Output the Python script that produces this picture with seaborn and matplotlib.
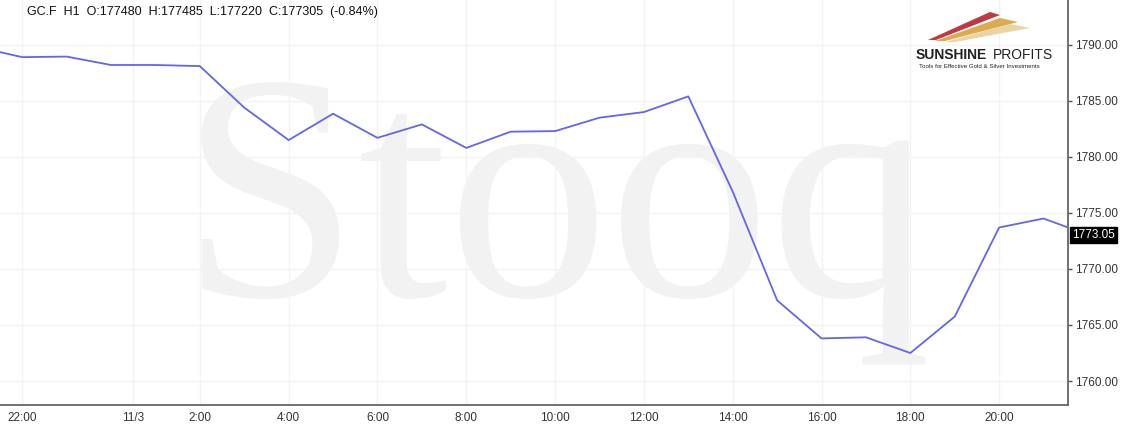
import pandas as pd
import seaborn as sns
import matplotlib.pyplot as plt
from matplotlib.patches import Polygon

# hourly closes of GC.F (gold futures)
times = pd.date_range("2021-11-02 21:00", periods=26, freq="h")
closes = [1789.8, 1788.9, 1788.95, 1788.2, 1788.2, 1788.1, 1784.4, 1781.5,
          1783.85, 1781.7, 1782.9, 1780.8, 1782.25, 1782.3, 1783.5, 1784.0,
          1785.4, 1776.9, 1767.2, 1763.8, 1763.9, 1762.5, 1765.75, 1773.7,
          1774.5, 1773.05]
last_price = 1773.05
header = "GC.F  H1  O:177480  H:177485  L:177220  C:177305  (-0.84%)"

tick_times = pd.to_datetime(["2021-11-02 22:00", "2021-11-03 00:30", "2021-11-03 02:00",
                             "2021-11-03 04:00", "2021-11-03 06:00", "2021-11-03 08:00",
                             "2021-11-03 10:00", "2021-11-03 12:00", "2021-11-03 14:00",
                             "2021-11-03 16:00", "2021-11-03 18:00", "2021-11-03 20:00"])
tick_labels = ["22:00", "11/3", "2:00", "4:00", "6:00", "8:00", "10:00",
               "12:00", "14:00", "16:00", "18:00", "20:00"]
y_ticks = [1760, 1765, 1770, 1775, 1780, 1785, 1790]

df = pd.DataFrame({"time": times, "close": closes})

sns.set_style("white")
plt.rcParams["font.family"] = ["Liberation Sans", "DejaVu Sans"]

W, H = 1126, 434
fig = plt.figure(figsize=(W / 100, H / 100), dpi=100)
ax = fig.add_axes([0, 1 - 405 / H, 1068 / W, 405 / H])

# big watermark behind everything
ax.text(0.52, 0.27, "Stooq", transform=ax.transAxes, ha="center", va="baseline",
        fontsize=232, family="Liberation Serif", color="#f2f2f2", zorder=0)

sns.lineplot(data=df, x="time", y="close", ax=ax, color="#6464ec", linewidth=1.3, zorder=3)

ax.set_xlim(pd.Timestamp("2021-11-02 21:30"), pd.Timestamp("2021-11-03 21:33"))
ax.set_ylim(1757.86, 1794.0)
ax.set_xticks(tick_times)
ax.set_xticklabels(tick_labels)
ax.set_yticks(y_ticks)
ax.set_yticklabels([f"{v:.2f}" for v in y_ticks])
ax.yaxis.tick_right()
ax.set_xlabel("")
ax.set_ylabel("")
ax.grid(True, color="#f3f3f3", linewidth=1)
ax.tick_params(axis="both", labelsize=8.5, colors="#555555", labelcolor="#333333",
               length=3, width=1, pad=2)
for s in ["top", "left"]:
    ax.spines[s].set_visible(False)
for s in ["right", "bottom"]:
    ax.spines[s].set_color("#666666")
    ax.spines[s].set_linewidth(1.3)

# last price box on right axis
ax.annotate(f"{last_price:.2f}", xy=(1.0, last_price), xycoords=("axes fraction", "data"),
            xytext=(3, 0), textcoords="offset points", va="center", ha="left",
            fontsize=8.5, color="white",
            bbox=dict(boxstyle="square,pad=0.15", fc="black", ec="black"))

# header
fig.text(27 / W, 1 - 12 / H, header, fontsize=9, color="#111111", va="center", ha="left")

# Sunshine Profits logo
def px(pts):
    return [(x / W, 1 - y / H) for x, y in pts]

for pts, c in [([(928, 40), (990, 12), (1000, 15), (936, 40)], "#b8232f"),
               ([(935, 41), (1000, 18), (1018, 22), (945, 41)], "#d9a23a"),
               ([(945, 42), (1010, 24), (1030, 28), (955, 42)], "#e8cf9a")]:
    fig.patches.append(Polygon(px(pts), closed=True, transform=fig.transFigure,
                               fc=c, ec="none", alpha=0.9))
fig.text(916 / W, 1 - 55 / H, "SUNSHINE", fontsize=10, fontweight="bold",
         color="#222222", va="center", ha="left")
fig.text(993 / W, 1 - 55 / H, "PROFITS", fontsize=10, color="#222222",
         va="center", ha="left")
fig.text(919 / W, 1 - 66 / H, "Tools for Effective Gold & Silver Investments",
         fontsize=4.4, color="#222222", va="center", ha="left")

fig.savefig("out.png", dpi=100)
